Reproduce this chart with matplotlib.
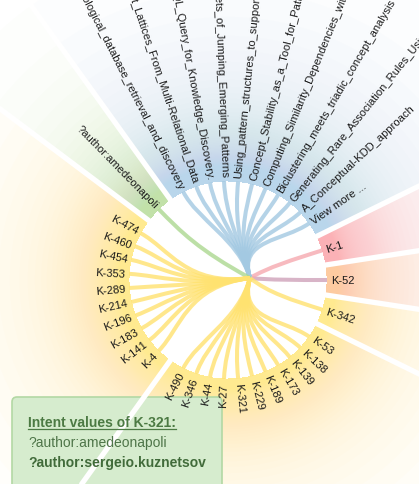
import numpy as np
import matplotlib
matplotlib.use('Agg')
import matplotlib.pyplot as plt
from matplotlib.patches import Wedge, FancyBboxPatch, PathPatch
from matplotlib.path import Path

plt.rcParams['font.family'] = ['Liberation Sans', 'DejaVu Sans']

# leaves in counter-clockwise order, starting at 3 o'clock
orange_leaves = ["K-52"]
pink_leaves = ["K-1"]
blue_leaves = [
    "View more ...",
    "A_Conceptual-KDD_approach",
    "Generating_Rare_Association_Rules_Using_the_Minimal_Rare_Itemsets_Family",
    "Biclustering_meets_triadic_concept_analysis",
    "Computing_Similarity_Dependencies_with_Pattern_Structures",
    "Concept_Stability_as_a_Tool_for_Pattern_Selection",
    "Using_pattern_structures_to_support_information_retrieval",
    "Mining_Minimal_Sets_of_Jumping_Emerging_Patterns",
    "Using_Formal_Concept_Analysis_to_Refine_a_SPARQL_Query_for_Knowledge_Discovery.",
    "Relational_Concept_Analysis:_Mining_Concept_Lattices_From_Multi-Relational_Data",
    "A_lattice-based_approach_to_biological_database_retrieval_and_discovery",
]
green_leaves = ["?author:amedeonapoli"]
yellow_left = ["K-474", "K-460", "K-454", "K-353", "K-289",
               "K-214", "K-196", "K-183", "K-141", "K-4"]
yellow_bottom = ["K-490", "K-346", "K-44", "K-27", "K-321", "K-229",
                 "K-189", "K-173", "K-139", "K-138", "K-53"]
yellow_single = ["K-342"]

groups = [orange_leaves, pink_leaves, blue_leaves, green_leaves,
          yellow_left, yellow_bottom, yellow_single]
band_colors = ['#fdcba0', '#fbb1b6', '#b9d6eb', '#c2e1a9',
               '#ffea90', '#ffea90', '#ffea90']
link_colors = ['#cfa2b9', '#f6a9b0', '#a3c9e2', '#acd890',
               '#ffe270', '#ffe270', '#ffe270']

tooltip_title = "Intent values of K-321:"
tooltip_lines = ["?author:amedeonapoli", "?author:sergeio.kuznetsov"]

W, H = 419, 485
cx, cy = 228, H - 281          # circle centre (y up)
hx, hy = 250, H - 279          # where the links meet
r0 = 99                        # inner radius of the bands
tau = 70                       # fade length of the bands
step = 8.2
gap = (360 - step * (sum(len(g) for g in groups) - len(groups))) / len(groups)

# angles of every leaf
angles = []
a = 0.0
for gi, g in enumerate(groups):
    if gi > 0:
        a += gap
    ga = []
    for li in range(len(g)):
        if li > 0:
            a += step
        ga.append(a)
    angles.append(ga)

fig = plt.figure(figsize=(W / 100, H / 100), dpi=100)
ax = fig.add_axes([0, 0, 1, 1])
ax.set_xlim(0, W)
ax.set_ylim(0, H)
ax.set_aspect('equal')
ax.axis('off')


def pt(r, deg):
    t = np.radians(deg)
    return cx + r * np.cos(t), cy + r * np.sin(t)


# fading bands: stacked translucent wedges, intensity ~ exp(-d / tau)
n_layers, layer_alpha = 130, 0.033
layer_r = [r0 - tau * np.log(1 - (1 - layer_alpha) ** k)
           for k in range(1, n_layers + 1)]
bounds = []
for gi, g in enumerate(groups):
    prev_last = angles[gi - 1][-1] if gi > 0 else angles[-1][-1] - 360
    nxt_first = angles[gi + 1][0] if gi < len(groups) - 1 else angles[0][0] + 360
    t1 = (prev_last + angles[gi][0]) / 2
    t2 = (angles[gi][-1] + nxt_first) / 2
    bounds.append(t1)
    for ro in layer_r:
        ax.add_patch(Wedge((cx, cy), ro, t1, t2, width=ro - r0,
                           facecolor=band_colors[gi], alpha=layer_alpha, lw=0))

# white separators between the bands
for b in bounds:
    x1, y1 = pt(r0 - 2, b)
    x2, y2 = pt(r0 + 400, b)
    ax.plot([x1, x2], [y1, y2], color='white', lw=3.8, solid_capstyle='butt')

# links, bundled by group
for gi, g in enumerate(groups):
    mean = np.mean(angles[gi])
    gx, gy = pt(42, mean)
    for ang in angles[gi]:
        p2 = pt(r0 * 0.68, ang)
        p3 = pt(r0, ang)
        path = Path([(hx, hy), (gx, gy), p2, p3],
                    [Path.MOVETO, Path.CURVE4, Path.CURVE4, Path.CURVE4])
        ax.add_patch(PathPatch(path, facecolor='none', edgecolor=link_colors[gi],
                               lw=2.9, alpha=0.8, capstyle='butt'))

# leaf labels
for gi, g in enumerate(groups):
    for name, ang in zip(g, angles[gi]):
        x, y = pt(r0 + 4, ang)
        a_n = ang % 360
        if 90 < a_n < 270:
            ax.text(x, y, name, rotation=a_n - 180, rotation_mode='anchor',
                    ha='right', va='center', fontsize=8, color='#1a1a1a')
        else:
            ax.text(x, y, name, rotation=a_n if a_n < 90 else a_n - 360,
                    rotation_mode='anchor', ha='left', va='center',
                    fontsize=8, color='#1a1a1a')

# tooltip
ax.add_patch(FancyBboxPatch((12, -20), 210, H - 398 + 20,
                            boxstyle='round,pad=0,rounding_size=5',
                            facecolor='#d6ecce', edgecolor='#b3d8a4', lw=1.2))
tt = ax.text(28, H - 423, tooltip_title, fontsize=10, fontweight='bold',
             color='#4c7a43', va='center')
ax.text(28, H - 443, tooltip_lines[0], fontsize=10, color='#4e7548', va='center')
ax.text(28, H - 463, tooltip_lines[1], fontsize=10, fontweight='bold',
        color='#416b3a', va='center')
fig.canvas.draw()
bb = tt.get_window_extent().transformed(ax.transData.inverted())
ax.plot([bb.x0, bb.x1], [bb.y0 + 0.5, bb.y0 + 0.5], color='#4c7a43', lw=0.9)

fig.savefig('out.png', dpi=100)
